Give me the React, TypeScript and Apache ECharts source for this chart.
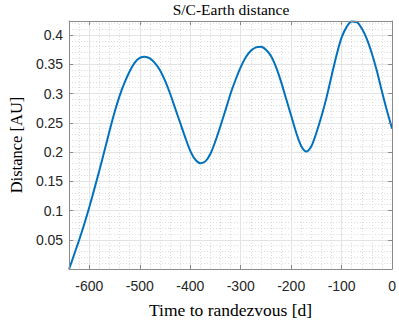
import React, { useEffect, useRef } from "react";
import * as echarts from "echarts";

const times = [
  -640, -630, -620, -610, -600, -590, -580, -570, -560, -550, -540, -530, -520,
  -510, -500, -490, -480, -470, -460, -450, -440, -430, -420, -410, -400, -390,
  -380, -370, -360, -350, -340, -330, -320, -310, -300, -290, -280, -270, -260,
  -250, -240, -230, -220, -210, -200, -190, -180, -170, -160, -150, -140, -130,
  -120, -110, -100, -90, -80, -70, -60, -50, -40, -30, -20, -10, 0,
];
const distance = [
  0.0, 0.025, 0.05, 0.077, 0.106, 0.137, 0.169, 0.202, 0.236, 0.268, 0.296,
  0.319, 0.338, 0.353, 0.361, 0.363, 0.36, 0.352, 0.34, 0.322, 0.3, 0.275,
  0.25, 0.225, 0.202, 0.187, 0.181, 0.184, 0.197, 0.219, 0.245, 0.272, 0.3,
  0.324, 0.345, 0.362, 0.373, 0.379, 0.38, 0.375, 0.364, 0.345, 0.32, 0.291,
  0.262, 0.233, 0.21, 0.201, 0.21, 0.233, 0.261, 0.293, 0.33, 0.366, 0.396,
  0.414, 0.423, 0.422, 0.411, 0.393, 0.368, 0.338, 0.303, 0.27, 0.24,
];
const xTicks = [-600, -500, -400, -300, -200, -100, 0];
const yTicks = [0.05, 0.1, 0.15, 0.2, 0.25, 0.3, 0.35, 0.4];

const title = "S/C-Earth distance";
const xName = "Time to randezvous [d]";
const yName = "Distance [AU]";

export default function App() {
  const ref = useRef<HTMLDivElement>(null);
  useEffect(() => {
    if (!ref.current) return;
    const chart = echarts.init(ref.current, null, { renderer: "svg" });
    const axisColor = "#8a8a8a";
    const labelStyle = {
      color: "#262626",
      fontFamily: "Liberation Sans",
      fontSize: 14,
    };
    const serif = "Liberation Serif";
    const X_MIN = -640;
    const X_MAX = 0;
    const Y_MIN = 0;
    const Y_MAX = 0.424;
    const tickStyle = (vals: number[]) => ({
      show: true,
      inside: true,
      length: 4,
      customValues: vals,
      lineStyle: { color: axisColor, width: 1 },
    });
    const minorGrid = {
      show: true,
      lineStyle: { color: "#dadada", type: [1, 2], width: 1 },
    };
    chart.setOption({
      animation: false,
      backgroundColor: "#ffffff",
      title: {
        text: title,
        left: 226,
        textAlign: "center",
        top: -4,
        textStyle: { fontFamily: serif, fontSize: 15.5, fontWeight: "normal", color: "#000" },
      },
      grid: { left: 56, right: 3, top: 21, bottom: 43 },
      xAxis: [
        {
          type: "value",
          min: X_MIN,
          max: X_MAX,
          name: xName,
          nameLocation: "middle",
          nameGap: 32,
          nameTextStyle: { fontFamily: serif, fontSize: 17.5, color: "#000" },
          axisLine: { show: true, onZero: false, lineStyle: { color: axisColor, width: 1 } },
          axisTick: tickStyle(xTicks),
          axisLabel: {
            ...labelStyle,
            margin: 10,
            customValues: xTicks,
            formatter: (v: number) => String(Math.round(v)),
          },
          splitLine: { show: false },
          z: 5,
        },
        {
          type: "value",
          position: "top",
          min: X_MIN,
          max: X_MAX,
          axisLine: { show: true, onZero: false, lineStyle: { color: axisColor, width: 1 } },
          axisTick: tickStyle(xTicks),
          axisLabel: { show: false },
          splitLine: { show: false },
          z: 5,
        },
        {
          type: "value",
          position: "bottom",
          min: X_MIN,
          max: X_MAX,
          interval: 20,
          axisLine: { show: false },
          axisTick: { show: false },
          axisLabel: { show: false },
          splitLine: minorGrid,
          z: 0,
        },
      ],
      yAxis: [
        {
          type: "value",
          min: Y_MIN,
          max: Y_MAX,
          name: yName,
          nameLocation: "middle",
          nameGap: 42,
          nameTextStyle: { fontFamily: serif, fontSize: 16.5, color: "#000" },
          axisLine: { show: true, onZero: false, lineStyle: { color: axisColor, width: 1 } },
          axisTick: tickStyle(yTicks),
          axisLabel: {
            ...labelStyle,
            margin: 6,
            customValues: yTicks,
            formatter: (v: number) => String(Math.round(v * 100) / 100),
          },
          splitLine: { show: false },
          z: 5,
        },
        {
          type: "value",
          position: "right",
          min: Y_MIN,
          max: Y_MAX,
          axisLine: { show: true, onZero: false, lineStyle: { color: axisColor, width: 1 } },
          axisTick: tickStyle(yTicks),
          axisLabel: { show: false },
          splitLine: { show: false },
          z: 5,
        },
        {
          type: "value",
          position: "left",
          min: Y_MIN,
          max: Y_MAX,
          interval: 0.01,
          axisLine: { show: false },
          axisTick: { show: false },
          axisLabel: { show: false },
          splitLine: minorGrid,
          z: 0,
        },
      ],
      series: [
        {
          type: "line",
          xAxisIndex: 0,
          yAxisIndex: 0,
          data: times.map((t, i) => [t, distance[i]]),
          showSymbol: false,
          smooth: 0.3,
          clip: false,
          lineStyle: { color: "#0072BD", width: 2 },
          z: 3,
          markLine: {
            silent: true,
            symbol: "none",
            z: 1,
            label: { show: false },
            lineStyle: { color: "#e3e3e3", type: "solid", width: 1 },
            data: [
              ...xTicks.filter((t) => t !== 0).map((t) => ({ xAxis: t })),
              ...yTicks.map((v) => ({ yAxis: v })),
            ],
          },
        },
      ],
    });
    return () => chart.dispose();
  }, []);
  return (
    <div
      ref={ref}
      style={{ position: "fixed", left: 0, top: 0, width: 399, height: 324 }}
    />
  );
}
